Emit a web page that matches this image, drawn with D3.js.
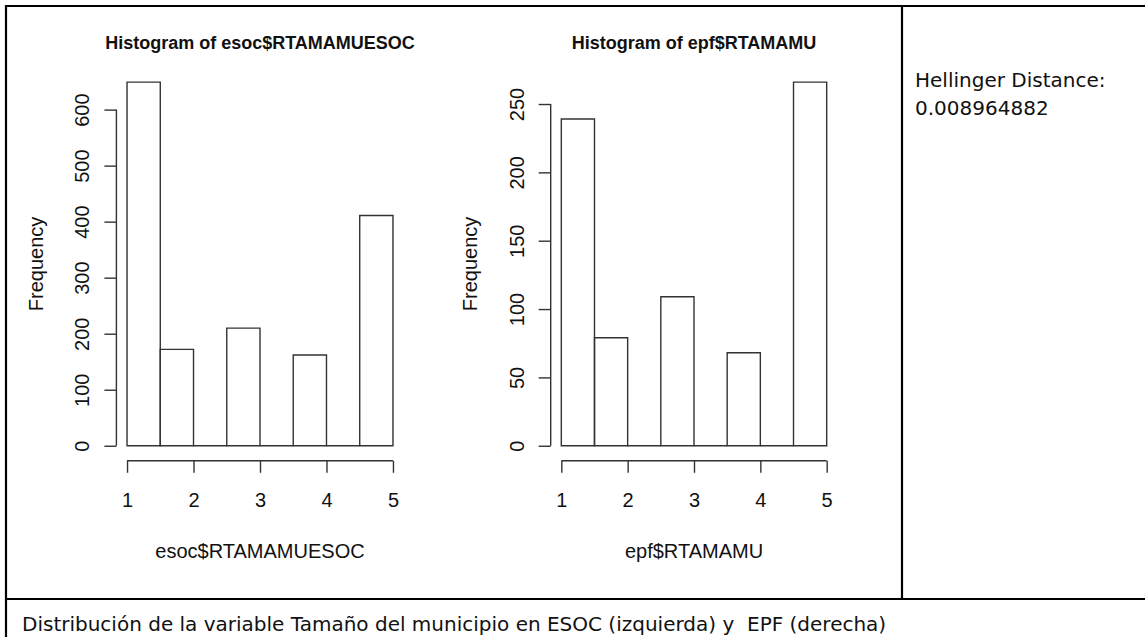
<!DOCTYPE html>
<html>
<head>
<meta charset="utf-8">
<script src="https://cdn.jsdelivr.net/npm/d3@7"></script>
<style>
  body { margin: 0; background: #fff; }
  svg { display: block; }
  .rtxt { font-family: "Liberation Sans", Arial, sans-serif; fill: #111; }
  .doc { font-family: "DejaVu Sans", Verdana, sans-serif; font-size: 20px; fill: #111; white-space: pre; }
</style>
</head>
<body>
<div id="chart"></div>
<script>
// histogram breaks and counts
var breaks = [1, 1.5, 2, 2.5, 3, 3.5, 4, 4.5, 5];
var esocCounts = [649, 172, 0, 210, 0, 162, 0, 411];
var epfCounts = [239, 79, 0, 109, 0, 68, 0, 266];
var xTicks = [1, 2, 3, 4, 5];
var esocYTicks = [0, 100, 200, 300, 400, 500, 600];
var epfYTicks = [0, 50, 100, 150, 200, 250];
var titles = ["Histogram of esoc$RTAMAMUESOC", "Histogram of epf$RTAMAMU"];
var xLabels = ["esoc$RTAMAMUESOC", "epf$RTAMAMU"];
var yLabel = "Frequency";
var hellingerLabel = "Hellinger Distance:";
var hellingerValue = "0.008964882";
var caption = "Distribución de la variable Tamaño del municipio en ESOC (izquierda) y  EPF (derecha)";

var W = 1145, H = 637;

var svg = d3.select('#chart').append('svg')
    .attr('width', W)
    .attr('height', H);

// table borders
var borders = [
    [5, 6, W, 6],      // top
    [6, 5, 6, H],      // left
    [902, 6, 902, 599],// middle divider
    [5, 599, W, 599]   // row divider
];
svg.selectAll('line.border')
    .data(borders)
    .join('line')
    .attr('class', 'border')
    .attr('x1', d => d[0]).attr('y1', d => d[1])
    .attr('x2', d => d[2]).attr('y2', d => d[3])
    .attr('stroke', '#000')
    .attr('stroke-width', 2.2);

// plot regions (R style: usr extended 4% on each side)
var plotTop = 67.6, plotBottom = 460.3;
var panels = [
    {left: 116.4, right: 403.6, counts: esocCounts, yTicks: esocYTicks, title: titles[0], xLab: xLabels[0]},
    {left: 550.7, right: 837.3, counts: epfCounts, yTicks: epfYTicks, title: titles[1], xLab: xLabels[1]}
];

var lineCol = '#333';

panels.forEach(function(p) {
    var xr = breaks[breaks.length - 1] - breaks[0];
    var x = d3.scaleLinear()
        .domain([breaks[0] - 0.04 * xr, breaks[breaks.length - 1] + 0.04 * xr])
        .range([p.left, p.right]);
    var maxC = d3.max(p.counts);
    var y = d3.scaleLinear()
        .domain([-0.04 * maxC, 1.04 * maxC])
        .range([plotBottom, plotTop]);

    var g = svg.append('g');

    // bars
    g.selectAll('path.bar')
        .data(p.counts)
        .join('path')
        .attr('class', 'bar')
        .attr('d', (d, i) => {
            var x0 = x(breaks[i]), x1 = x(breaks[i + 1]);
            return 'M' + x0 + ',' + y(0) + 'V' + y(d) + 'H' + x1 + 'V' + y(0) + 'Z';
        })
        .attr('fill', 'none')
        .attr('stroke', lineCol)
        .attr('stroke-width', 1.4);

    // x axis (R draws it at bottom of plot region)
    var xAxis = d3.axisBottom(x).tickValues(xTicks).tickSize(12).tickPadding(20)
        .tickFormat(d3.format('d'));
    var gx = g.append('g')
        .attr('transform', 'translate(0,' + (plotBottom + 0.5) + ')')
        .call(xAxis);
    gx.select('.domain').attr('d', 'M' + x(xTicks[0]) + ',0H' + x(xTicks[xTicks.length - 1]));
    gx.selectAll('path, line').attr('stroke', lineCol).attr('stroke-width', 1.4);
    gx.selectAll('text')
        .attr('class', 'rtxt')
        .attr('fill', '#111')
        .attr('font-size', 20)
        .attr('font-family', '"Liberation Sans", Arial, sans-serif');

    // y axis at left of plot region
    var yAxis = d3.axisLeft(y).tickValues(p.yTicks).tickSize(12).tickFormat(d3.format('d'));
    var gy = g.append('g')
        .attr('transform', 'translate(' + p.left + ',0)')
        .call(yAxis);
    gy.select('.domain').attr('d', 'M0,' + y(p.yTicks[0]) + 'V' + y(p.yTicks[p.yTicks.length - 1]));
    gy.selectAll('path, line').attr('stroke', lineCol).attr('stroke-width', 1.4);
    gy.selectAll('text')
        .attr('fill', '#111')
        .attr('font-size', 20)
        .attr('font-family', '"Liberation Sans", Arial, sans-serif')
        .attr('x', null).attr('dy', null)
        .attr('text-anchor', 'middle')
        .attr('transform', 'translate(-27,0) rotate(-90)');

    var cx = (p.left + p.right) / 2;

    // title
    g.append('text')
        .attr('class', 'rtxt')
        .attr('x', cx).attr('y', 49)
        .attr('text-anchor', 'middle')
        .attr('font-size', 18)
        .attr('font-weight', 'bold')
        .text(p.title);

    // x label
    g.append('text')
        .attr('class', 'rtxt')
        .attr('x', cx).attr('y', 558)
        .attr('text-anchor', 'middle')
        .attr('font-size', 20)
        .text(p.xLab);

    // y label
    g.append('text')
        .attr('class', 'rtxt')
        .attr('text-anchor', 'middle')
        .attr('font-size', 20)
        .attr('transform', 'translate(' + (p.left - 73.5) + ',' + ((plotTop + plotBottom) / 2) + ') rotate(-90)')
        .text(yLabel);
});

// right cell text
svg.append('text').attr('class', 'doc').attr('x', 915).attr('y', 87).text(hellingerLabel);
svg.append('text').attr('class', 'doc').attr('x', 915).attr('y', 115).text(hellingerValue);

// caption row
svg.append('text').attr('class', 'doc').attr('x', 22).attr('y', 631).text(caption);
</script>
</body>
</html>
